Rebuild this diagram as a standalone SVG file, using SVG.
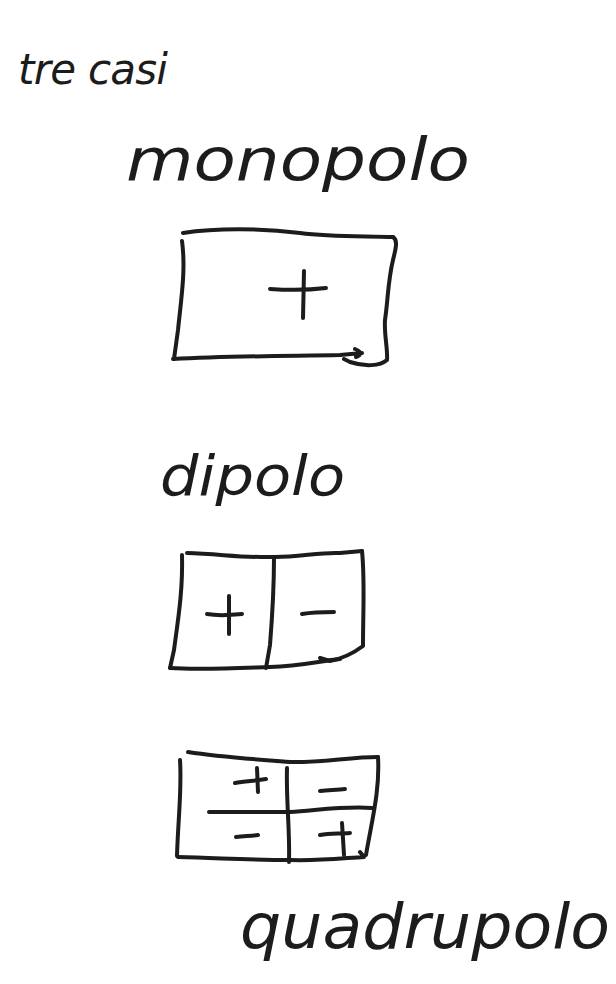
<svg xmlns="http://www.w3.org/2000/svg" width="616" height="984" viewBox="0 0 616 984">
<style>
.ink{fill:none;stroke:#1c1c1c;stroke-width:4;stroke-linecap:round;stroke-linejoin:round}
.hand{font-family:"DejaVu Sans","Liberation Sans",sans-serif;font-style:italic;fill:#1c1c1c}
</style>
<rect width="616" height="984" fill="#ffffff"/>
<g id="title">
<text class="hand" x="18" y="84" font-size="42" textLength="150" lengthAdjust="spacing">tre casi</text>
</g>
<g id="label-monopolo">
<text class="hand" x="126" y="180" font-size="58" textLength="344" lengthAdjust="spacingAndGlyphs">monopolo</text>
</g>
<g id="monopolo">
<path class="ink" d="M183,233 C215,228 260,228 300,233 C330,237 360,236 393,237"/>
<path class="ink" d="M182,241 C186,270 181,300 178,330 L174,359"/>
<path class="ink" d="M173,359 C230,356 290,356 340,355 L362,353 M355,349 C362,352 362,355 356,357"/>
<path class="ink" d="M393,237 C398,240 396,248 393,260 C388,280 388,300 385,320 C384,335 388,350 387,360 C380,366 365,367 350,362 L344,359"/>
<path class="ink" d="M270,289 C285,290 310,290 326,288"/>
<path class="ink" d="M304,271 L303,318"/>
</g>
<g id="label-dipolo">
<text class="hand" x="160" y="495" font-size="56" textLength="185" lengthAdjust="spacingAndGlyphs">dipolo</text>
</g>
<g id="dipolo">
<path class="ink" d="M187,553 C220,554 245,558 275,557 C300,557 320,552 340,553 L362,551"/>
<path class="ink" d="M182,555 C183,590 178,620 174,650 L170,668"/>
<path class="ink" d="M170,668 C200,670 240,668 270,667 C300,666 320,661 340,659"/>
<path class="ink" d="M362,551 C365,580 363,610 363,646 C355,652 345,658 330,661 L320,658"/>
<path class="ink" d="M274,557 C274,590 272,620 270,645 L266,668"/>
<path class="ink" d="M207,614 C218,616 232,615 242,614"/>
<path class="ink" d="M229,596 L229,634"/>
<path class="ink" d="M302,614 C314,612 324,612 334,612"/>
</g>
<g id="quadrupolo">
<path class="ink" d="M188,752 C220,757 250,759 290,762 C320,763 350,757 378,757"/>
<path class="ink" d="M180,760 C182,790 178,820 177,856"/>
<path class="ink" d="M178,857 C220,858 250,860 290,860 C320,861 345,858 364,857 L360,852"/>
<path class="ink" d="M378,757 C380,790 372,820 366,855"/>
<path class="ink" d="M287,768 C286,800 290,830 289,862"/>
<path class="ink" d="M209,812 C240,812 260,812 290,812 C320,810 345,806 372,808"/>
<path class="ink" d="M235,783 C245,781 255,781 266,779"/>
<path class="ink" d="M257,768 L258,792"/>
<path class="ink" d="M320,791 C330,790 338,790 345,789"/>
<path class="ink" d="M236,837 C245,836 252,836 258,835"/>
<path class="ink" d="M320,835 C330,833 340,834 350,833"/>
<path class="ink" d="M342,823 L344,855"/>
</g>
<g id="label-quadrupolo">
<text class="hand" x="240" y="948" font-size="62" textLength="370" lengthAdjust="spacingAndGlyphs">quadrupolo</text>
</g>
<g id="connectors"></g>
</svg>
